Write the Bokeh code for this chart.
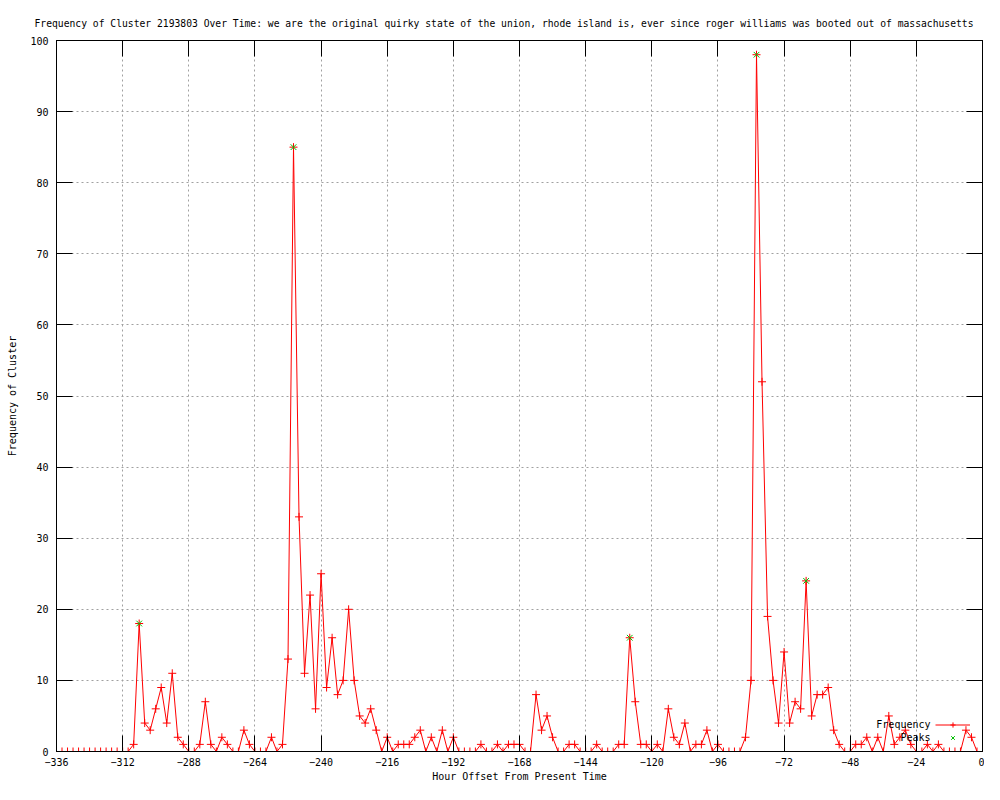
from bokeh.plotting import figure
from bokeh.models import (Range1d, LinearAxis, FixedTicker, Label, Legend, LegendItem,
                          CustomJSTickFormatter, ColumnDataSource)
from bokeh.embed import file_html
from bokeh.resources import INLINE

TITLE = ("Frequency of Cluster 2193803 Over Time: we are the original quirky state of the union, "
         "rhode island is, ever since roger williams was booted out of massachusetts")
X_LABEL = "Hour Offset From Present Time"
Y_LABEL = "Frequency of Cluster"

hours = list(range(-336, 1, 2))
frequency = [
    0, 0, 0, 0, 0, 0, 0, 0, 0, 0, 0, 0,          # -336 .. -314
    0, 0, 1, 18, 4, 3, 6, 9, 4, 11, 2, 1,        # -312 .. -290
    0, 0, 1, 7, 1, 0, 2, 1, 0, 0, 3, 1,          # -288 .. -266
    0, 0, 0, 2, 0, 1, 13, 85, 33, 11, 22, 6,     # -264 .. -242
    25, 9, 16, 8, 10, 20, 10, 5, 4, 6, 3, 0,     # -240 .. -218
    2, 0, 1, 1, 1, 2, 3, 0, 2, 0, 3, 0,          # -216 .. -194
    2, 0, 0, 0, 0, 1, 0, 0, 1, 0, 1, 1,          # -192 .. -170
    1, 0, 0, 8, 3, 5, 2, 0, 0, 1, 1, 0,          # -168 .. -146
    0, 0, 1, 0, 0, 0, 1, 1, 16, 7, 1, 1,         # -144 .. -122
    0, 1, 0, 6, 2, 1, 4, 0, 1, 1, 3, 0,          # -120 .. -98
    1, 0, 0, 0, 0, 2, 10, 98, 52, 19, 10, 4,     # -96 .. -74
    14, 4, 7, 6, 24, 5, 8, 8, 9, 3, 1, 0,        # -72 .. -50
    0, 1, 1, 2, 0, 2, 0, 5, 1, 2, 3, 1,          # -48 .. -26
    0, 0, 1, 0, 1, 0, 0, 0, 0, 3, 2, 0,          # -24 .. -2
    0,                                           # 0
]
peak_hours = [-306, -250, -128, -82, -64]
peak_values = [18, 85, 16, 98, 24]

x_ticks = [-336, -312, -288, -264, -240, -216, -192, -168, -144, -120, -96, -72, -48, -24, 0]
y_ticks = [0, 10, 20, 30, 40, 50, 60, 70, 80, 90, 100]

FONT = "DejaVu Sans Mono"
FS = "10px"

W, H = 984, 784
BL, BR, BT, BB = 56, 2, 40, 32
FW, FH = W - BL - BR, H - BT - BB

p = figure(width=W, height=H, output_backend="svg", toolbar_location=None,
           x_range=Range1d(-336, 0), y_range=Range1d(0, 100),
           min_border_left=BL, min_border_right=BR, min_border_top=BT, min_border_bottom=BB,
           background_fill_color="white", border_fill_color="white")
p.outline_line_color = "black"
p.outline_line_width = 1

p.title.text = TITLE
p.title.align = "left"
p.title.offset = -22
p.title.standoff = 23
p.title.text_font = FONT
p.title.text_font_size = "9.7px"
p.title.text_font_style = "normal"
p.title.text_color = "black"

for ax, ticks in ((p.xaxis[0], x_ticks), (p.yaxis[0], y_ticks)):
    ax.ticker = FixedTicker(ticks=ticks)
    ax.major_tick_in = 16
    ax.major_tick_out = 0
    ax.minor_tick_line_color = None
    ax.axis_line_color = "black"
    ax.major_tick_line_color = "black"
    ax.major_label_text_font = FONT
    ax.major_label_text_font_size = FS
    ax.major_label_text_color = "black"
    ax.axis_label_text_font = FONT
    ax.axis_label_text_font_size = FS
    ax.axis_label_text_font_style = "normal"
    ax.axis_label_text_color = "black"

p.xaxis[0].major_label_standoff = 6
p.xaxis[0].axis_label = X_LABEL
p.xaxis[0].axis_label_standoff = 2
p.yaxis[0].major_label_standoff = 8
p.yaxis[0].axis_label = Y_LABEL
p.yaxis[0].axis_label_standoff = 9

blank = CustomJSTickFormatter(code="return ''")
top_ax = LinearAxis(ticker=FixedTicker(ticks=x_ticks), formatter=blank, major_tick_in=16,
                    major_tick_out=0, minor_tick_line_color=None, major_label_standoff=0,
                    major_label_text_font_size="1px", axis_line_color="black")
right_ax = LinearAxis(ticker=FixedTicker(ticks=y_ticks), formatter=blank, major_tick_in=16,
                      major_tick_out=0, minor_tick_line_color=None, major_label_standoff=0,
                      major_label_text_font_size="1px", axis_line_color="black")
p.add_layout(top_ax, "above")
p.add_layout(right_ax, "right")

p.xgrid.ticker = FixedTicker(ticks=x_ticks)
p.ygrid.ticker = FixedTicker(ticks=y_ticks)
for g in (p.xgrid[0], p.ygrid[0]):
    g.grid_line_color = "#a0a0a0"
    g.grid_line_dash = "2 3"
    g.grid_line_width = 1

src = ColumnDataSource(dict(hour=hours, freq=frequency))
psrc = ColumnDataSource(dict(hour=peak_hours, val=peak_values))

line_r = p.line(x="hour", y="freq", source=src, line_color="#ff0000", line_width=1)
pts_r = p.scatter(x="hour", y="freq", source=src, marker="cross", size=8,
                  line_color="#ff0000", line_width=1)
peak_r = p.scatter(x="hour", y="val", source=psrc, marker="x", size=8,
                   line_color="#00c000", line_width=1)

legend = Legend(items=[LegendItem(label=" ", renderers=[line_r, pts_r]),
                       LegendItem(label=" ", renderers=[peak_r])],
                location=(FW - 47, 7), glyph_width=35, glyph_height=13, label_height=13,
                label_width=0, label_standoff=0, padding=0, spacing=0, margin=0,
                border_line_alpha=0, background_fill_alpha=0,
                label_text_font=FONT, label_text_font_size=FS)
p.add_layout(legend)

for txt, yy in (("Frequency", 27), ("Peaks", 14)):
    p.add_layout(Label(x=FW - 52, y=yy, x_units="screen", y_units="screen", text=txt,
                       text_align="right", text_baseline="middle",
                       text_font=FONT, text_font_size=FS, text_color="black"))

open("out.html", "w").write(file_html(p, INLINE))
